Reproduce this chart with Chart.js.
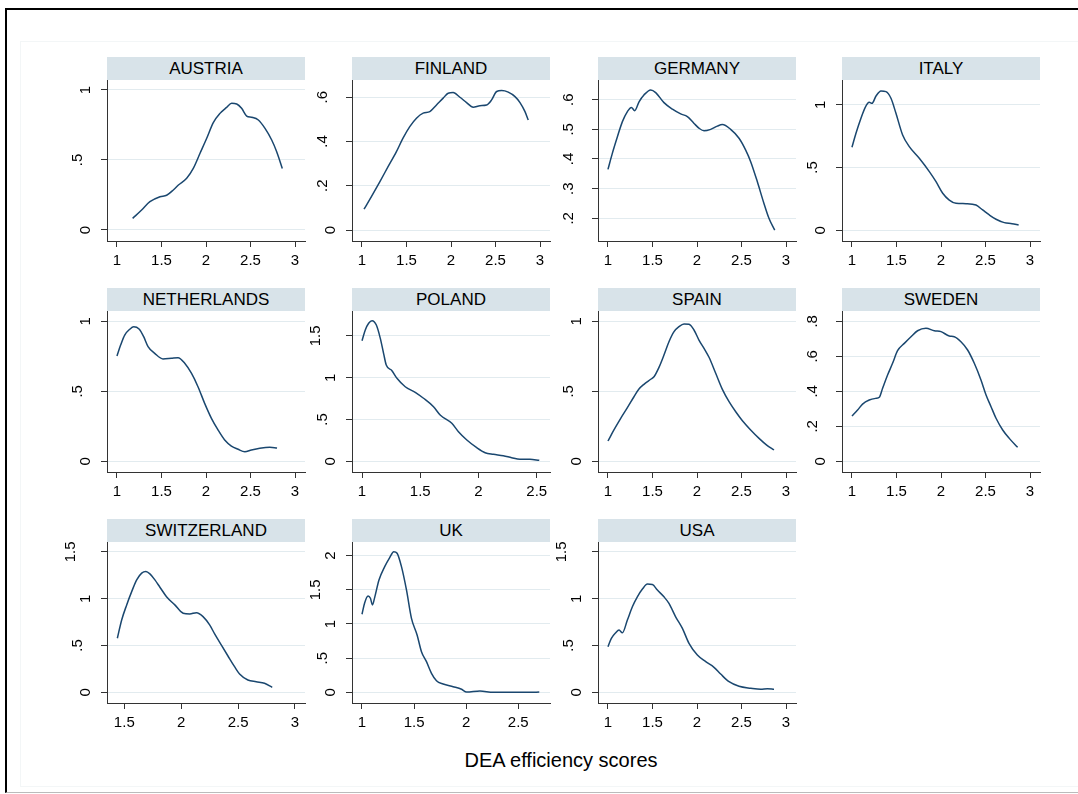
<!DOCTYPE html>
<html>
<head>
<meta charset="utf-8">
<script src="https://cdn.jsdelivr.net/npm/chart.js@4.4.0/dist/chart.umd.min.js"></script>
<style>
body { margin: 0; background: #fff; width: 1078px; height: 794px; overflow: hidden; position: relative;
       font-family: "Liberation Sans", Arial, sans-serif; }
.frame { position: absolute; left: 5px; top: 8px; width: 1100px; height: 782px;
         border-left: 2px solid #000; border-top: 2px solid #000; border-bottom: 1px solid #bbb; }
.inner { position: absolute; left: 20px; top: 41px; width: 1070px; height: 744px; border: 1px solid #f3f6f7; }
.strip { position: absolute; height: 23px; background: #d8e3e9; color: #000; font-size: 17px;
         line-height: 24px; text-align: center; }
.panel { position: absolute; }
.xtitle { position: absolute; left: 361px; width: 400px; top: 748px; font-size: 20px; line-height: 24px;
          text-align: center; color: #000; }
</style>
</head>
<body>
<div class="frame"></div>
<div class="inner"></div>
<div class="xtitle">DEA efficiency scores</div>
<script>
// tick values
const ticksX = [1, 1.5, 2, 2.5, 3];
const ticksXPoland = [1, 1.5, 2, 2.5];
const ticksXSwiss = [1.5, 2, 2.5, 3];
const ticksXUK = [1, 1.5, 2, 2.5];
const ticksY01 = [0, 0.5, 1];
const ticksYFinland = [0, 0.2, 0.4, 0.6];
const ticksYGermany = [0.2, 0.3, 0.4, 0.5, 0.6];
const ticksY015 = [0, 0.5, 1, 1.5];
const ticksYSweden = [0, 0.2, 0.4, 0.6, 0.8];
const ticksYUK = [0, 0.5, 1, 1.5, 2];

// density curves
const austriaX = [1.176,1.277,1.37,1.483,1.558,1.633,1.69,1.783,1.857,1.933,2.008,2.082,2.157,2.232,2.288,2.345,2.4,2.457,2.513,2.588,2.663,2.738,2.794,2.857];
const austriaY = [0.083,0.143,0.202,0.238,0.248,0.286,0.321,0.369,0.44,0.548,0.655,0.767,0.833,0.876,0.905,0.9,0.869,0.814,0.805,0.786,0.726,0.643,0.559,0.44];

const finlandX = [1.023,1.106,1.2,1.293,1.387,1.461,1.537,1.612,1.687,1.762,1.837,1.912,1.968,2.024,2.1,2.175,2.249,2.325,2.4,2.456,2.513,2.569,2.643,2.719,2.775,2.831,2.868];
const finlandY = [0.094,0.151,0.218,0.286,0.354,0.415,0.467,0.505,0.528,0.535,0.565,0.596,0.618,0.621,0.6,0.576,0.555,0.562,0.565,0.588,0.626,0.63,0.623,0.603,0.576,0.535,0.497];

const germanyX = [1.0,1.049,1.106,1.162,1.218,1.263,1.3,1.349,1.404,1.48,1.536,1.629,1.724,1.817,1.892,1.967,2.022,2.079,2.154,2.229,2.285,2.378,2.472,2.547,2.603,2.678,2.752,2.808,2.873];
const germanyY = [0.365,0.419,0.475,0.526,0.56,0.574,0.563,0.593,0.616,0.633,0.624,0.59,0.568,0.552,0.543,0.52,0.504,0.495,0.5,0.511,0.516,0.5,0.47,0.43,0.391,0.323,0.25,0.2,0.16];

const italyX = [1.0,1.045,1.101,1.149,1.194,1.225,1.27,1.326,1.382,1.438,1.494,1.569,1.644,1.756,1.869,1.944,2.019,2.093,2.169,2.281,2.393,2.468,2.543,2.618,2.711,2.798,2.872];
const italyY = [0.661,0.772,0.892,0.979,1.019,1.011,1.069,1.109,1.104,1.051,0.932,0.759,0.666,0.573,0.467,0.387,0.295,0.241,0.215,0.212,0.201,0.162,0.122,0.088,0.061,0.053,0.042];

const netherlandsX = [1.0,1.041,1.087,1.143,1.188,1.248,1.3,1.349,1.424,1.517,1.611,1.686,1.761,1.836,1.91,1.985,2.061,2.135,2.21,2.285,2.36,2.436,2.51,2.604,2.716,2.798];
const netherlandsY = [0.752,0.83,0.902,0.943,0.961,0.945,0.89,0.819,0.771,0.731,0.736,0.74,0.7,0.629,0.533,0.414,0.307,0.224,0.152,0.109,0.086,0.069,0.081,0.093,0.1,0.095];

const polandX = [1.0,1.028,1.057,1.086,1.123,1.157,1.185,1.208,1.257,1.3,1.371,1.457,1.528,1.614,1.671,1.771,1.828,1.9,1.985,2.057,2.128,2.213,2.285,2.356,2.442,2.522];
const polandY = [1.443,1.571,1.651,1.682,1.63,1.471,1.292,1.152,1.084,0.993,0.892,0.825,0.754,0.653,0.554,0.455,0.354,0.255,0.163,0.103,0.084,0.067,0.043,0.024,0.024,0.012];

const spainX = [1.0,1.067,1.143,1.218,1.292,1.348,1.404,1.48,1.517,1.573,1.629,1.685,1.742,1.798,1.854,1.91,1.966,2.022,2.079,2.135,2.21,2.285,2.36,2.435,2.51,2.603,2.697,2.783,2.865];
const spainY = [0.145,0.224,0.307,0.383,0.461,0.516,0.55,0.586,0.604,0.671,0.759,0.854,0.926,0.962,0.981,0.979,0.938,0.866,0.807,0.743,0.629,0.514,0.426,0.354,0.29,0.224,0.164,0.116,0.081];

const swedenX = [1.0,1.063,1.119,1.194,1.27,1.307,1.344,1.4,1.456,1.512,1.588,1.663,1.737,1.831,1.925,2.0,2.093,2.149,2.224,2.299,2.374,2.449,2.506,2.562,2.618,2.693,2.767,2.861];
const swedenY = [0.259,0.293,0.327,0.35,0.36,0.366,0.417,0.493,0.56,0.632,0.674,0.712,0.746,0.76,0.746,0.741,0.716,0.712,0.683,0.636,0.56,0.465,0.379,0.312,0.246,0.179,0.131,0.08];

const switzerlandX = [1.439,1.477,1.521,1.565,1.609,1.653,1.69,1.725,1.769,1.813,1.871,1.944,2.017,2.075,2.134,2.192,2.25,2.294,2.352,2.411,2.469,2.513,2.586,2.659,2.732,2.8];
const switzerlandY = [0.578,0.773,0.934,1.076,1.201,1.273,1.29,1.265,1.201,1.123,1.022,0.934,0.845,0.837,0.851,0.809,0.72,0.624,0.506,0.388,0.274,0.196,0.132,0.113,0.096,0.053];

const ukX = [1.0,1.026,1.058,1.081,1.1,1.122,1.163,1.218,1.266,1.305,1.337,1.379,1.427,1.475,1.529,1.571,1.619,1.667,1.715,1.779,1.875,1.956,2.004,2.132,2.26,2.452,2.612,2.702];
const ukY = [1.142,1.312,1.41,1.376,1.278,1.39,1.644,1.839,1.971,2.059,2.035,1.839,1.498,1.083,0.839,0.594,0.448,0.278,0.17,0.122,0.082,0.044,0.004,0.019,0.0,0.0,0.0,0.004];

const usaX = [1.0,1.038,1.087,1.124,1.162,1.218,1.274,1.33,1.387,1.443,1.499,1.555,1.629,1.685,1.76,1.836,1.91,2.004,2.098,2.191,2.266,2.36,2.472,2.604,2.716,2.791,2.865];
const usaY = [0.487,0.576,0.636,0.665,0.636,0.772,0.914,1.02,1.103,1.156,1.152,1.092,1.02,0.95,0.807,0.683,0.523,0.398,0.327,0.267,0.195,0.113,0.064,0.043,0.032,0.038,0.032];

// panels: name, data, ticks, axis ranges (Stata pads ~10px around the data)
const panels = [
  { name: 'AUSTRIA',     x: austriaX,     y: austriaY,     xt: ticksX,       yt: ticksY01,      xr: [0.888, 3.112], yr: [-0.0786, 1.0714] },
  { name: 'FINLAND',     x: finlandX,     y: finlandY,     xt: ticksX,       yt: ticksYFinland, xr: [0.888, 3.112], yr: [-0.0497, 0.678] },
  { name: 'GERMANY',     x: germanyX,     y: germanyY,     xt: ticksX,       yt: ticksYGermany, xr: [0.888, 3.112], yr: [0.1234, 0.6664] },
  { name: 'ITALY',       x: italyX,       y: italyY,       xt: ticksX,       yt: ticksY01,      xr: [0.888, 3.112], yr: [-0.0852, 1.1967] },
  { name: 'NETHERLANDS', x: netherlandsX, y: netherlandsY, xt: ticksX,       yt: ticksY01,      xr: [0.888, 3.112], yr: [-0.0764, 1.0736] },
  { name: 'POLAND',      x: polandX,      y: polandY,      xt: ticksXPoland, yt: ticksY015,     xr: [0.914, 2.614], yr: [-0.128, 1.798] },
  { name: 'SPAIN',       x: spainX,       y: spainY,       xt: ticksX,       yt: ticksY01,      xr: [0.888, 3.112], yr: [-0.0764, 1.0736] },
  { name: 'SWEDEN',      x: swedenX,      y: swedenY,      xt: ticksX,       yt: ticksYSweden,  xr: [0.888, 3.112], yr: [-0.0611, 0.8589] },
  { name: 'SWITZERLAND', x: switzerlandX, y: switzerlandY, xt: ticksXSwiss,  yt: ticksY015,     xr: [1.348, 3.088], yr: [-0.1143, 1.606] },
  { name: 'UK',          x: ukX,          y: ukY,          xt: ticksXUK,     yt: ticksYUK,      xr: [0.904, 2.805], yr: [-0.1567, 2.2] },
  { name: 'USA',         x: usaX,         y: usaY,         xt: ticksX,       yt: ticksY015,     xr: [0.888, 3.112], yr: [-0.1143, 1.606] }
];

const colLeft = [107, 352, 598, 842];
const rowTop = [80, 311, 542];
const plotW = 198, plotH = 161;
const padL = 48, padT = 20, padR = 16, padB = 34;
const fontFam = '"Liberation Sans", Arial, sans-serif';

// Stata style numbers: .5 instead of 0.5
function fmt(v) {
  return String(Math.round(v * 1000) / 1000).replace(/^0\./, '.');
}

// vertical y tick labels, drawn the way Stata places them
const rotatedYLabels = {
  id: 'rotatedYLabels',
  afterDraw(chart) {
    const s = chart.scales.y;
    const ctx = chart.ctx;
    ctx.save();
    ctx.font = '15px ' + fontFam;
    ctx.fillStyle = '#000';
    ctx.textAlign = 'center';
    ctx.textBaseline = 'middle';
    s.ticks.forEach(t => {
      const lab = fmt(t.value);
      const cx = s.right - (13.7 + 7.5 * lab.length);
      const cy = s.getPixelForValue(t.value);
      ctx.save();
      ctx.translate(cx, cy);
      ctx.rotate(-Math.PI / 2);
      ctx.fillText(lab, 0, 0);
      ctx.restore();
    });
    ctx.restore();
  }
};

panels.forEach((p, i) => {
  const L = colLeft[i % 4];
  const T = rowTop[Math.floor(i / 4)];

  const strip = document.createElement('div');
  strip.className = 'strip';
  strip.style.left = L + 'px';
  strip.style.top = (T - 23) + 'px';
  strip.style.width = plotW + 'px';
  strip.textContent = p.name;
  document.body.appendChild(strip);

  const wrap = document.createElement('div');
  wrap.className = 'panel';
  wrap.style.left = (L - padL) + 'px';
  wrap.style.top = (T - padT) + 'px';
  const cv = document.createElement('canvas');
  cv.width = padL + plotW + padR;
  cv.height = padT + plotH + padB;
  wrap.appendChild(cv);
  document.body.appendChild(wrap);

  new Chart(cv.getContext('2d'), {
    type: 'line',
    data: {
      datasets: [{
        data: p.x.map((v, k) => ({ x: v, y: p.y[k] })),
        borderColor: '#1a476f',
        borderWidth: 1.5,
        pointRadius: 0,
        fill: false,
        cubicInterpolationMode: 'monotone'
      }]
    },
    options: {
      responsive: false,
      animation: false,
      devicePixelRatio: 1,
      layout: { padding: { top: padT, right: padR, left: 0, bottom: 0 } },
      plugins: { legend: { display: false }, tooltip: { enabled: false } },
      scales: {
        x: {
          type: 'linear',
          min: p.xr[0], max: p.xr[1],
          afterBuildTicks: s => { s.ticks = p.xt.map(v => ({ value: v })); },
          afterFit: s => { s.height = padB; },
          grid: { drawOnChartArea: false, drawTicks: true, tickLength: 6, tickColor: '#333' },
          border: { display: true, color: '#333', width: 1 },
          ticks: { color: '#000', font: { size: 15, family: fontFam }, padding: 5,
                   maxRotation: 0, autoSkip: false, callback: v => fmt(v) }
        },
        y: {
          type: 'linear',
          min: p.yr[0], max: p.yr[1],
          afterBuildTicks: s => { s.ticks = p.yt.map(v => ({ value: v })); },
          afterFit: s => { s.width = padL; },
          grid: { color: '#e2ebef', lineWidth: 1, drawTicks: true, tickLength: 6, tickColor: '#333' },
          border: { display: true, color: '#333', width: 1 },
          ticks: { display: false }
        }
      }
    },
    plugins: [rotatedYLabels]
  });
});
</script>
</body>
</html>
